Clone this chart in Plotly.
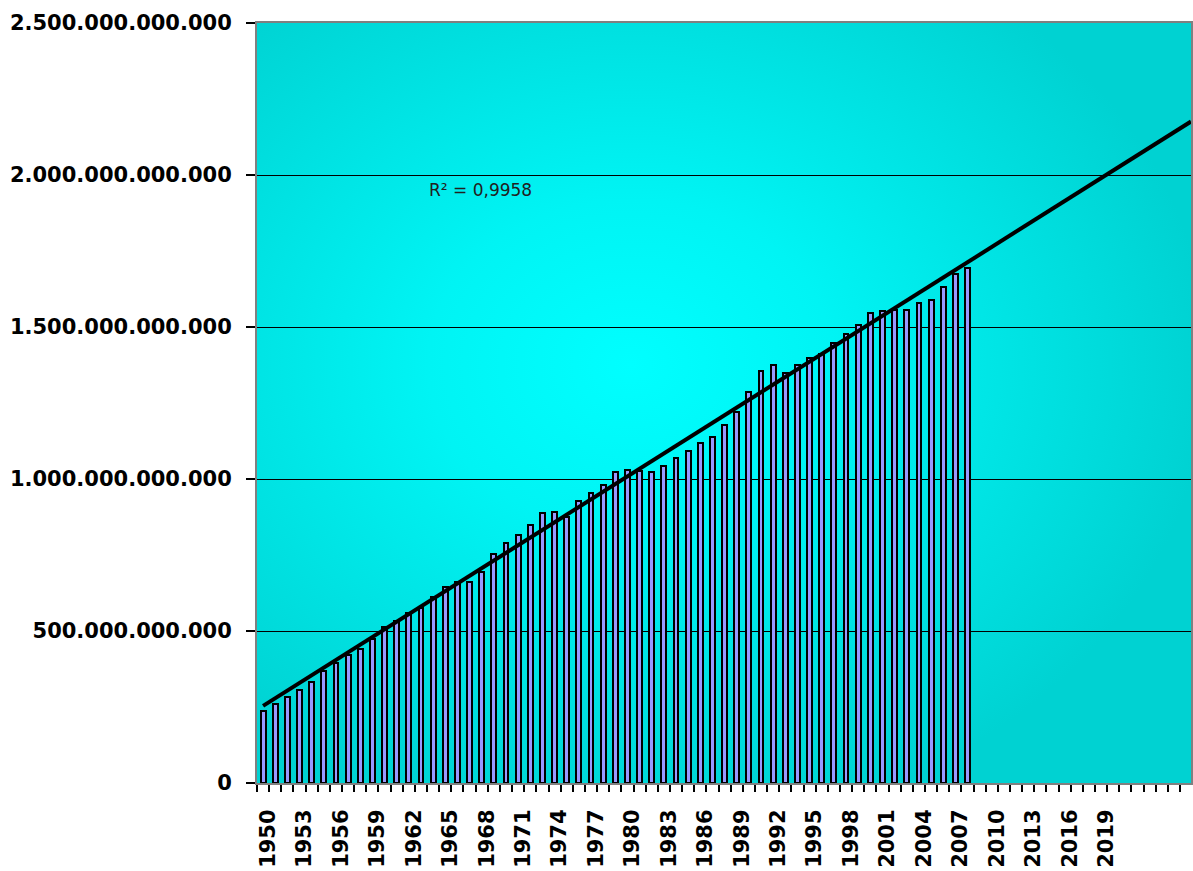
import base64
import numpy as np
import plotly.graph_objects as go

# ---- data (values in billions) ----
years = list(range(1950, 2009))
values_bn = [236, 261, 282, 307, 332, 369, 395, 421, 440, 473,
             512, 534, 560, 575, 611, 646, 662, 662, 695, 752,
             790, 816, 850, 889, 892, 874, 928, 953, 980, 1022,
             1030, 1026, 1024, 1043, 1068, 1093, 1119, 1137, 1178, 1219,
             1287, 1355, 1375, 1350, 1375, 1397, 1411, 1446, 1476, 1507,
             1547, 1554, 1556, 1556, 1578, 1589, 1633, 1673, 1695]
x_label_years = list(range(1950, 2020, 3))
x_label_text = [str(y) for y in x_label_years]
y_tick_vals = [0, 500e9, 1000e9, 1500e9, 2000e9, 2500e9]
y_tick_text = ["0", "500.000.000.000", "1.000.000.000.000", "1.500.000.000.000",
               "2.000.000.000.000", "2.500.000.000.000"]
r2_text = "R² = 0,9958"
x_min, x_max = 1949.5, 2026.4

values = [v * 1e9 for v in values_bn]

# linear trend (least squares) extended forward
coef = np.polyfit(years, values, 1)
trend_x = [years[0], x_max]
trend_y = list(np.polyval(coef, trend_x))

# background gradient
svg = ('<svg xmlns="http://www.w3.org/2000/svg" width="936" height="760" '
       'viewBox="0 0 936 760" preserveAspectRatio="none"><defs>'
       '<radialGradient id="g" cx="0.4" cy="0.45" r="0.62">'
       '<stop offset="0" stop-color="#00FFFF"/><stop offset="0.35" stop-color="#00F4F4"/>'
       '<stop offset="1" stop-color="#00D2D2"/></radialGradient></defs>'
       '<rect width="936" height="760" fill="url(#g)"/></svg>')
svg_uri = "data:image/svg+xml;base64," + base64.b64encode(svg.encode()).decode()

fig = go.Figure()
fig.add_trace(go.Bar(
    x=years, y=values, width=0.4,
    marker=dict(color="#9999FF", line=dict(color="black", width=2)),
    showlegend=False, hoverinfo="x+y"))
fig.add_trace(go.Scatter(
    x=trend_x, y=trend_y, mode="lines",
    line=dict(color="black", width=4), showlegend=False, hoverinfo="skip"))

fig.add_annotation(x=1967.9, y=1951e9, xref="x", yref="y", text=r2_text,
                   showarrow=False,
                   font=dict(family="DejaVu Sans", size=17, color="#202020"))

fig.add_layout_image(dict(source=svg_uri, xref="paper", yref="paper", x=0, y=1,
                          sizex=1, sizey=1, sizing="stretch", layer="below",
                          xanchor="left", yanchor="top"))

minor_ticks = [x_min + k for k in range(0, 78)]

fig.update_layout(
    width=1193, height=871,
    margin=dict(l=257, r=0, t=23, b=88),
    paper_bgcolor="white", plot_bgcolor="#00E6E6",
    bargap=0,
    xaxis=dict(
        range=[x_min, x_max], tickmode="array",
        tickvals=x_label_years, ticktext=x_label_text,
        tickangle=-90, ticks="",
        tickfont=dict(family="DejaVu Sans", size=21, color="black", weight="bold"),
        ticklabelstandoff=16, ticklabelshift=5,
        minor=dict(tickmode="array", tickvals=minor_ticks, ticks="outside",
                   ticklen=7, tickwidth=2, tickcolor="black", showgrid=False),
        showgrid=False, zeroline=False,
        showline=True, linecolor="#808080", linewidth=2, mirror=True,
    ),
    yaxis=dict(
        range=[0, 2.5e12], tickmode="array",
        tickvals=y_tick_vals, ticktext=y_tick_text,
        ticks="outside", ticklen=9, tickwidth=2, tickcolor="black",
        tickfont=dict(family="DejaVu Sans", size=21, color="black", weight="bold"),
        ticklabelstandoff=10,
        showgrid=True, gridcolor="black", gridwidth=1,
        zeroline=False,
        showline=True, linecolor="#808080", linewidth=2, mirror=True,
    ),
)

fig.write_html("out.html", config={"displayModeBar": False},
               post_script="document.body.style.margin='0';document.body.style.overflow='hidden';")
